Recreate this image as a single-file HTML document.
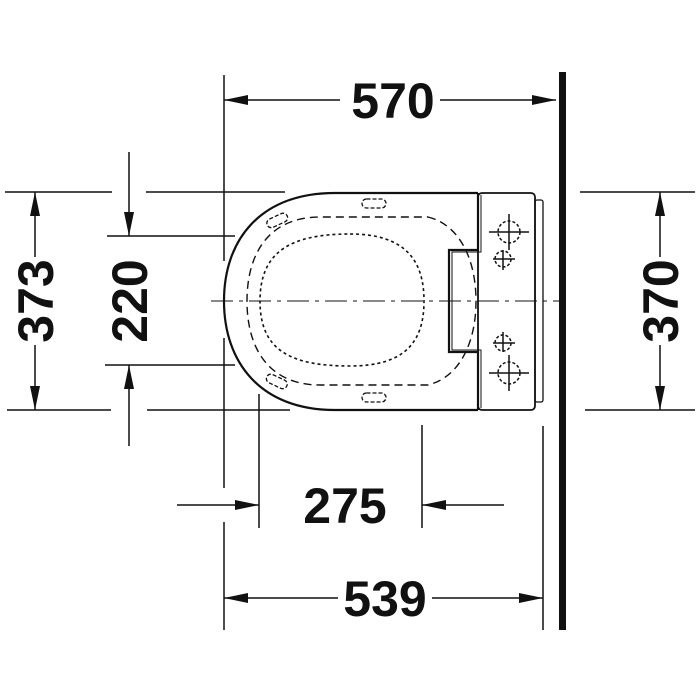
<!DOCTYPE html>
<html><head><style>
html,body{margin:0;padding:0;background:#fff;width:700px;height:700px;overflow:hidden}
text{font-family:"Liberation Sans Narrow","Liberation Sans",sans-serif;font-weight:bold;font-size:50px;fill:#111}
</style></head><body>
<svg width="700" height="700" viewBox="0 0 700 700" xmlns="http://www.w3.org/2000/svg">
<defs>
<marker id="a" viewBox="0 0 10 10" refX="10" refY="5" markerWidth="12" markerHeight="12" markerUnits="userSpaceOnUse" orient="auto">
<path d="M0,0 L10,5 L0,10 z" fill="#111"/></marker>
<marker id="b" viewBox="0 0 24 10" refX="24" refY="5" markerWidth="24" markerHeight="10" markerUnits="userSpaceOnUse" orient="auto">
<path d="M0,0 L24,5 L0,10 z" fill="#111"/></marker>
</defs>
<g stroke="#111" stroke-width="1.5" fill="none">
<!-- extension lines -->
<line x1="224" y1="75" x2="224" y2="261"/>
<line x1="224" y1="338" x2="224" y2="488"/>
<line x1="224" y1="522" x2="224" y2="630"/>
<line x1="259" y1="394" x2="259" y2="528"/>
<line x1="422" y1="425" x2="422" y2="528"/>
<line x1="543" y1="426" x2="543" y2="630"/>
<line x1="5" y1="192" x2="112" y2="192"/>
<line x1="146" y1="192" x2="285" y2="192"/>
<line x1="7" y1="410" x2="111" y2="410"/>
<line x1="147" y1="410" x2="290" y2="410"/>
<line x1="107" y1="236" x2="235" y2="236"/>
<line x1="105" y1="365" x2="235" y2="365"/>
<line x1="580" y1="192" x2="695" y2="192"/>
<line x1="585" y1="410" x2="695" y2="410"/>
<!-- dims -->
<line x1="340" y1="100" x2="224" y2="100" marker-end="url(#b)"/>
<line x1="440" y1="100" x2="556" y2="100" marker-end="url(#b)"/>
<line x1="338" y1="598" x2="224" y2="598" marker-end="url(#b)"/>
<line x1="432" y1="598" x2="543" y2="598" marker-end="url(#b)"/>
<line x1="177" y1="505" x2="259" y2="505" marker-end="url(#b)"/>
<line x1="504" y1="505" x2="422" y2="505" marker-end="url(#b)"/>
<line x1="35" y1="257" x2="35" y2="192" marker-end="url(#b)"/>
<line x1="35" y1="345" x2="35" y2="410" marker-end="url(#b)"/>
<line x1="129" y1="152" x2="129" y2="236" marker-end="url(#b)"/>
<line x1="129" y1="446" x2="129" y2="365" marker-end="url(#b)"/>
<line x1="660" y1="257" x2="660" y2="192" marker-end="url(#b)"/>
<line x1="660" y1="345" x2="660" y2="410" marker-end="url(#b)"/>
<!-- centerline -->
<line x1="211" y1="301" x2="560" y2="301" stroke-dasharray="22,6,4,6" stroke-width="1"/>
<!-- toilet -->
<path d="M478,193 L335,193 C260,193 224,240 224,301 C224,362 260,410 335,410 L478,410" stroke-width="2.2"/>
<path d="M478,193 L478,250 L449,250 L449,352 L478,352 L478,410" stroke-width="2.2"/>
<path d="M481,195 L481,252 L452,252 L452,350 L481,350 L481,408" stroke-width="1"/>
<rect x="478" y="193" width="57" height="217" rx="4" stroke-width="1.8"/>
<rect x="535" y="200" width="8" height="202" rx="2" stroke-width="1.3"/>
<path d="M428,217 C460,225 476,260 476,301 C476,342 460,377 428,385 L320,385 C270,385 247,350 247,301 C247,252 270,217 320,217 Z" stroke-dasharray="8,5" stroke-width="1.4"/>
<path d="M350,234 C405,234 424,260 424,301 C424,342 405,366 350,366 C290,366 260,350 260,301 C260,252 290,234 350,234 Z" stroke-dasharray="3,3" stroke-width="1.6"/>
<rect x="362" y="199" width="24" height="9" rx="4.5" stroke-dasharray="4,2" stroke-width="1.3"/>
<rect x="362" y="393" width="24" height="9" rx="4.5" stroke-dasharray="4,2" stroke-width="1.3"/>
<rect x="266" y="216" width="22" height="9" rx="4.5" transform="rotate(-25 277 220)" stroke-dasharray="4,2" stroke-width="1.3"/>
<rect x="266" y="377" width="22" height="9" rx="4.5" transform="rotate(25 277 381)" stroke-dasharray="4,2" stroke-width="1.3"/>
<circle cx="509" cy="232" r="11" stroke-dasharray="3,2"/>
<line x1="489" y1="232" x2="529" y2="232"/><line x1="509" y1="214" x2="509" y2="250"/>
<circle cx="509" cy="373" r="11" stroke-dasharray="3,2"/>
<line x1="489" y1="373" x2="529" y2="373"/><line x1="509" y1="355" x2="509" y2="391"/>
<circle cx="503" cy="259" r="8" stroke-dasharray="3,2"/>
<line x1="493" y1="259" x2="515" y2="259"/><line x1="503" y1="250" x2="503" y2="270"/>
<circle cx="503" cy="343" r="8" stroke-dasharray="3,2"/>
<line x1="493" y1="343" x2="515" y2="343"/><line x1="503" y1="332" x2="503" y2="352"/>
</g>
<rect x="559" y="72" width="7" height="558" fill="#111"/>
<text x="393" y="118" text-anchor="middle">570</text>
<text x="385" y="616" text-anchor="middle">539</text>
<text x="345" y="523" text-anchor="middle">275</text>
<text transform="translate(53,301) rotate(-90)" text-anchor="middle">373</text>
<text transform="translate(147,301) rotate(-90)" text-anchor="middle">220</text>
<text transform="translate(678,301) rotate(-90)" text-anchor="middle">370</text>
</svg>
</body></html>
